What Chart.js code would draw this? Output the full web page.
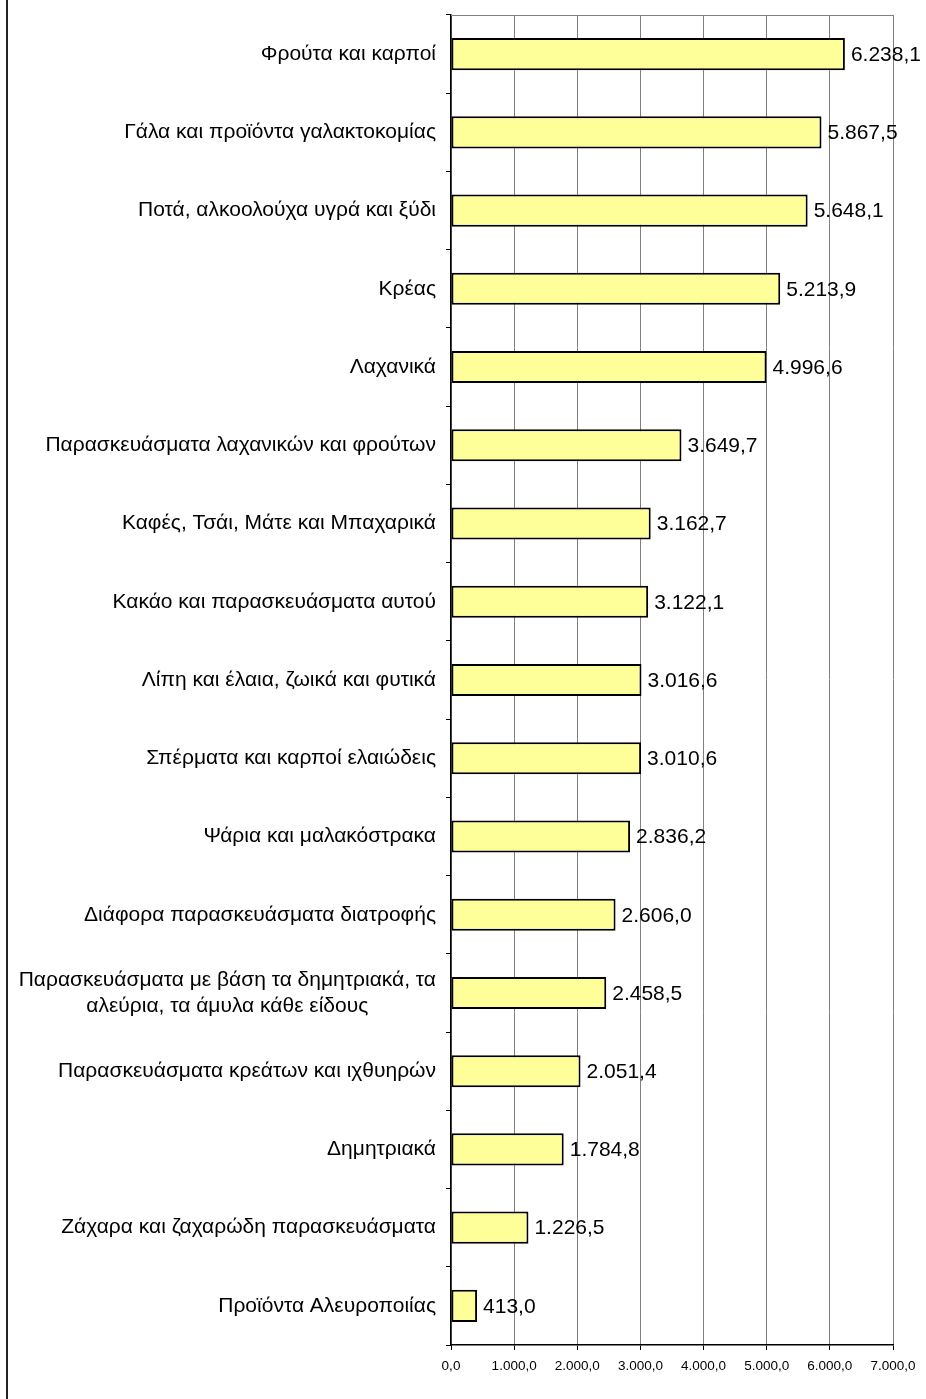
<!DOCTYPE html>
<html>
<head>
<meta charset="utf-8">
<script src="https://cdn.jsdelivr.net/npm/chart.js@4/dist/chart.umd.min.js"></script>
<style>
  body { margin: 0; background: #fff; }
  #wrap { width: 926px; height: 1399px; position: relative; }
</style>
</head>
<body>
<div id="wrap"><canvas id="chart"></canvas></div>
<script>
const categories = [
  'Φρούτα και καρποί',
  'Γάλα και προϊόντα γαλακτοκομίας',
  'Ποτά, αλκοολούχα υγρά και ξύδι',
  'Κρέας',
  'Λαχανικά',
  'Παρασκευάσματα λαχανικών και φρούτων',
  'Καφές, Τσάι, Μάτε και Μπαχαρικά',
  'Κακάο και παρασκευάσματα αυτού',
  'Λίπη και έλαια, ζωικά και φυτικά',
  'Σπέρματα και καρποί ελαιώδεις',
  'Ψάρια και μαλακόστρακα',
  'Διάφορα παρασκευάσματα διατροφής',
  ['Παρασκευάσματα με βάση τα δημητριακά, τα', 'αλεύρια, τα άμυλα κάθε είδους'],
  'Παρασκευάσματα κρεάτων και ιχθυηρών',
  'Δημητριακά',
  'Ζάχαρα και ζαχαρώδη παρασκευάσματα',
  'Προϊόντα Αλευροποιίας'
];
const values = [6238.1, 5867.5, 5648.1, 5213.9, 4996.6, 3649.7, 3162.7, 3122.1,
  3016.6, 3010.6, 2836.2, 2606.0, 2458.5, 2051.4, 1784.8, 1226.5, 413.0];
const axisMax = 7000;
const axisStep = 1000;

const fontFamily = '"Liberation Sans", Arial, sans-serif';
const labelFont = '21px ' + fontFamily;
const labelPad = 15; // gap between label text and the y axis

// greek style number: 6.238,1
const fmt = (v) => {
  const parts = v.toFixed(1).split('.');
  const intPart = parts[0].replace(/\B(?=(\d{3})+(?!\d))/g, '.');
  return intPart + ',' + parts[1];
};

const extras = {
  id: 'extras',
  beforeDraw(chart) {
    const ctx = chart.ctx;
    ctx.save();
    ctx.strokeStyle = '#222';
    ctx.lineWidth = 2;
    ctx.beginPath();
    ctx.moveTo(7, 0);
    ctx.lineTo(7, chart.height);
    ctx.stroke();
    ctx.restore();
  },
  afterDraw(chart) {
    const ctx = chart.ctx;
    const a = chart.chartArea;
    const yScale = chart.scales.y;
    ctx.save();
    ctx.strokeStyle = '#808080';
    ctx.lineWidth = 1;
    ctx.beginPath();
    ctx.moveTo(a.left, a.top + 0.5);
    ctx.lineTo(a.right, a.top + 0.5);
    ctx.stroke();

    ctx.fillStyle = '#000';
    ctx.font = labelFont;
    ctx.textBaseline = 'middle';

    // multi-line category labels are centred on their widest line
    categories.forEach((c, i) => {
      if (!Array.isArray(c)) return;
      const lineH = 21 * 1.25;
      const widths = c.map(t => ctx.measureText(t).width);
      const maxW = Math.max(...widths);
      const cx = a.left - labelPad - maxW / 2;
      const cy = yScale.getPixelForValue(i);
      ctx.textAlign = 'center';
      c.forEach((t, k) => {
        ctx.fillText(t, cx, cy + (k - (c.length - 1) / 2) * lineH);
      });
    });

    // value labels next to each bar
    ctx.textAlign = 'left';
    chart.getDatasetMeta(0).data.forEach((bar, i) => {
      ctx.fillText(fmt(values[i]), bar.x + 6, bar.y + 1);
    });
    ctx.restore();
  }
};

new Chart(document.getElementById('chart'), {
  type: 'bar',
  data: {
    labels: categories,
    datasets: [{
      data: values,
      backgroundColor: '#FFFF99',
      borderColor: '#000',
      borderWidth: 2,
      borderSkipped: false,
      categoryPercentage: 1,
      barPercentage: 0.41
    }]
  },
  options: {
    indexAxis: 'y',
    responsive: true,
    maintainAspectRatio: false,
    animation: false,
    layout: { padding: { top: 15, right: 33, left: 0, bottom: 0 } },
    plugins: { legend: { display: false }, tooltip: { enabled: false } },
    scales: {
      x: {
        min: 0,
        max: axisMax,
        ticks: {
          stepSize: axisStep,
          color: '#000',
          padding: 8,
          maxRotation: 0,
          font: { size: 13.5, family: fontFamily },
          callback: (v) => fmt(v)
        },
        grid: { color: '#808080', lineWidth: 1, tickColor: '#000', tickLength: 5 },
        border: { color: '#000', width: 1.5 },
        afterFit(scale) {
          scale.height = 54;
          scale.paddingLeft = 0;
          scale.paddingRight = 0;
        }
      },
      y: {
        ticks: {
          color: (c) => Array.isArray(categories[c.index]) ? 'rgba(0,0,0,0)' : '#000',
          padding: 10,
          font: { size: 21, family: fontFamily, lineHeight: 1.25 }
        },
        grid: { drawOnChartArea: false, color: '#000', tickLength: 5, offset: true },
        border: { color: '#000', width: 1.5 },
        afterFit(scale) {
          scale.width = 451;
          scale.paddingTop = 0;
          scale.paddingBottom = 0;
        }
      }
    }
  },
  plugins: [extras]
});
</script>
</body>
</html>
